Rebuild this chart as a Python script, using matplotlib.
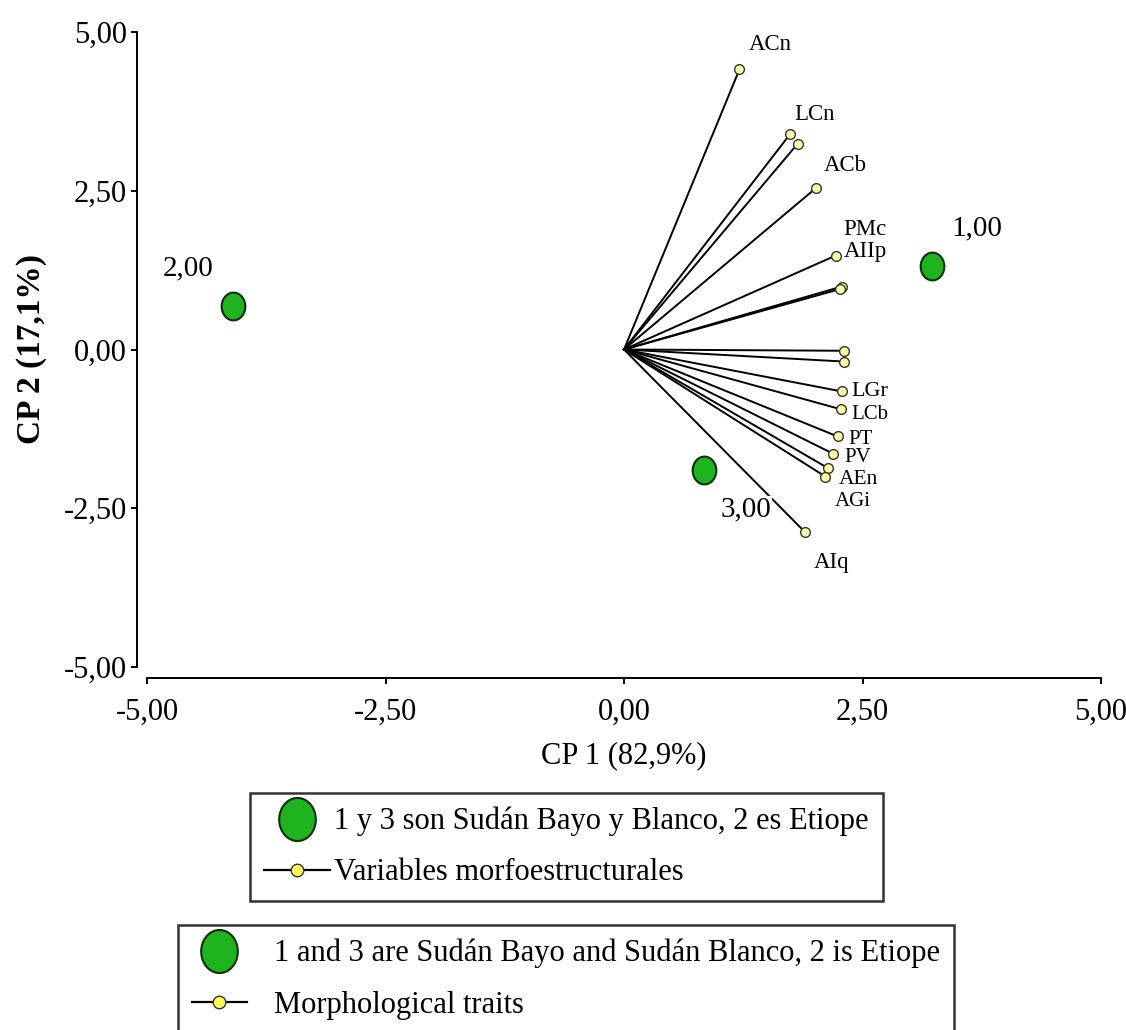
import numpy as np
import matplotlib
matplotlib.use("Agg")
import matplotlib.pyplot as plt
from matplotlib.lines import Line2D
from matplotlib.path import Path
from matplotlib.ticker import FuncFormatter

plt.rcParams["font.family"] = ["Liberation Serif", "DejaVu Serif"]

# ── Data ──────────────────────────────────────────────────────────────────── #
# group scores (green dots)
GROUP_LABELS = ["1,00", "2,00", "3,00"]
GROUP_X = [3.23, -4.10, 0.84]
GROUP_Y = [1.32, 0.68, -1.89]

# trait loadings (vectors from origin)
TRAIT_NAMES = ["ACn", "LCn", "", "ACb", "PMc", "AIIp", "", "", "",
               "LGr", "LCb", "PT", "PV", "AEn", "AGi", "AIq"]
TRAIT_X = [1.21, 1.74, 1.82, 2.01, 2.22, 2.28, 2.26, 2.31, 2.31,
           2.28, 2.27, 2.24, 2.19, 2.14, 2.11, 1.90]
TRAIT_Y = [4.41, 3.39, 3.24, 2.54, 1.48, 0.99, 0.95, -0.02, -0.19,
           -0.66, -0.94, -1.37, -1.64, -1.87, -2.00, -2.88]

TICKS = [-5.0, -2.5, 0.0, 2.5, 5.0]
X_LABEL = "CP 1 (82,9%)"
Y_LABEL = "CP 2 (17,1%)"

LEGEND_ES = ["1 y 3 son Sudán Bayo y Blanco, 2 es Etiope", "Variables morfoestructurales"]
LEGEND_EN = ["1 and 3 are Sudán Bayo and Sudán Blanco, 2 is Etiope", "Morphological traits"]

# ── Layout / style ────────────────────────────────────────────────────────── #
W, H = 1126, 1030
GREEN = "#1fb31f"
GREEN_EDGE = "#0b2e0b"
YELLOW = "#ffffa8"

# label offsets (points) relative to each vector tip: (dx, dy, ha, size)
TRAIT_LABEL_OFFSETS = {
    "ACn": (22, 18, "center", 16.5),
    "LCn": (18, 14, "center", 16.5),
    "ACb": (21, 16, "center", 16.5),
    "PMc": (21, 19, "center", 16.5),
    "AIIp": (17, 25, "center", 16.5),
    "LGr": (7, 0, "left", 16),
    "LCb": (8, -4, "left", 15),
    "PT": (8, -2, "left", 15),
    "PV": (8, -3, "left", 15),
    "AEn": (8, -8, "left", 15.5),
    "AGi": (7, -18, "left", 15),
    "AIq": (19, -22, "center", 16.5),
}
GROUP_LABEL_OFFSETS = [(32, 27), (-32, 27), (30, -29)]

# slightly tall ellipse marker for the group dots
t = np.linspace(0, 2 * np.pi, 60)
ELLIPSE = Path(np.column_stack([0.85 * np.cos(t), np.sin(t)]), closed=True)

fmt = FuncFormatter(lambda v, _: f"{v:.2f}".replace(".", ","))

fig = plt.figure(figsize=(W / 100, H / 100), dpi=100)
ax = fig.add_axes([147 / W, 1 - 667 / H, 954 / W, 635 / H])
ax.set_xlim(-5, 5)
ax.set_ylim(-5, 5)

# vectors
for name, x, y in zip(TRAIT_NAMES, TRAIT_X, TRAIT_Y):
    ax.plot([0, x], [0, y], color="black", lw=1.4, zorder=2)
ax.plot(TRAIT_X, TRAIT_Y, ls="none", marker="o", ms=7, mfc=YELLOW,
        mec="#333333", mew=1.0, zorder=4)
for name, x, y in zip(TRAIT_NAMES, TRAIT_X, TRAIT_Y):
    if not name:
        continue
    dx, dy, ha, size = TRAIT_LABEL_OFFSETS[name]
    ax.annotate(name, (x, y), xytext=(dx, dy), textcoords="offset points",
                ha=ha, va="center", fontsize=size, zorder=5)

# group scores
ax.plot(GROUP_X, GROUP_Y, ls="none", marker=ELLIPSE, ms=20, mfc=GREEN,
        mec=GREEN_EDGE, mew=1.5, zorder=6)
for lab, x, y, (dx, dy) in zip(GROUP_LABELS, GROUP_X, GROUP_Y, GROUP_LABEL_OFFSETS):
    ax.annotate(lab, (x, y), xytext=(dx, dy), textcoords="offset points",
                ha="center", va="center", fontsize=21, zorder=5,
                bbox=dict(fc="white", ec="none", pad=0.5))

# axes styling
for s in ["top", "right"]:
    ax.spines[s].set_visible(False)
ax.spines["left"].set_position(("outward", 7))
ax.spines["bottom"].set_position(("outward", 8))
for s in ["left", "bottom"]:
    ax.spines[s].set_linewidth(1.4)
ax.set_xticks(TICKS)
ax.set_yticks(TICKS)
ax.xaxis.set_major_formatter(fmt)
ax.yaxis.set_major_formatter(fmt)
ax.tick_params(axis="both", direction="out", length=4.5, width=1.4, labelsize=22)
ax.tick_params(axis="x", pad=10)
ax.tick_params(axis="y", pad=3)
ax.set_xlabel(X_LABEL, fontsize=22, labelpad=10)
ax.set_ylabel(Y_LABEL, fontsize=24, fontweight="bold", labelpad=12)

# legends
def legend_handles(ms_big):
    return [
        Line2D([], [], ls="none", marker=ELLIPSE, ms=ms_big, mfc=GREEN,
               mec=GREEN_EDGE, mew=1.5),
        Line2D([], [], color="black", lw=1.6, marker="o", ms=9, mfc="#ffff55",
               mec="#333333", mew=1.0),
    ]

leg1 = fig.legend(legend_handles(31), LEGEND_ES, loc="upper left",
                  bbox_to_anchor=(250 / W, 1 - 793 / H), fontsize=22,
                  frameon=True, fancybox=False, edgecolor="black",
                  borderpad=0.45, labelspacing=0.72, handlelength=2.16,
                  handletextpad=0.15, borderaxespad=0.0)
leg1.get_frame().set_linewidth(1.8)

leg2 = fig.legend(legend_handles(31), LEGEND_EN, loc="upper left",
                  bbox_to_anchor=(178 / W, 1 - 925 / H), fontsize=22,
                  frameon=True, fancybox=False, edgecolor="black",
                  borderpad=0.45, labelspacing=0.75, handlelength=1.8,
                  handletextpad=0.9, borderaxespad=0.0)
leg2.get_frame().set_linewidth(1.8)

fig.savefig("out.png", dpi=100)
